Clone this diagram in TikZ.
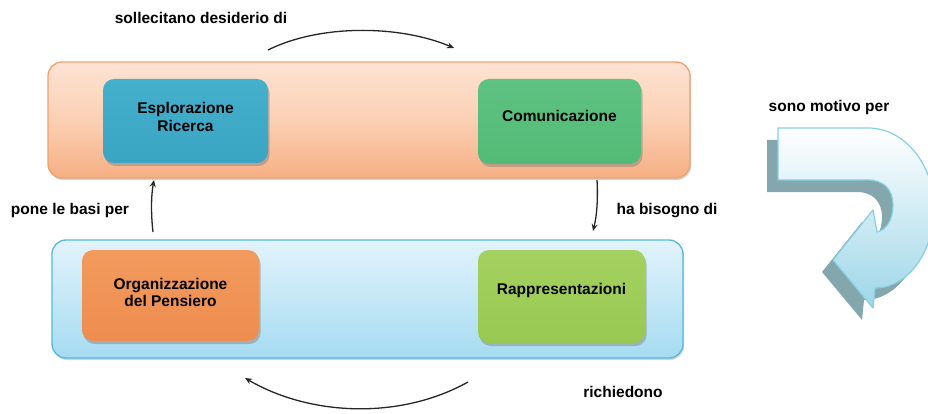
\documentclass[tikz,border=0pt]{standalone}
\usepackage{fontspec}
\setmainfont{Liberation Sans}
\usetikzlibrary{shadows,arrows.meta}
\definecolor{bandOtop}{HTML}{FDE3D3}
\definecolor{bandOmid}{HTML}{FBD0B4}
\definecolor{bandObot}{HTML}{F6AF83}
\definecolor{bandOedge}{HTML}{F0A06C}
\definecolor{bandBtop}{HTML}{E2F3FB}
\definecolor{bandBbot}{HTML}{A6DBF1}
\definecolor{bandBedge}{HTML}{52BADD}
\definecolor{cTeal}{HTML}{39A5C3}
\definecolor{cTealL}{HTML}{45B0CC}
\definecolor{cGreen}{HTML}{53BB76}
\definecolor{cGreenL}{HTML}{5EC282}
\definecolor{cOrange}{HTML}{EE8D4E}
\definecolor{cOrangeL}{HTML}{F29A5E}
\definecolor{cLime}{HTML}{98C952}
\definecolor{cLimeL}{HTML}{A4D160}
\definecolor{arrEdge}{HTML}{86D0E4}
\definecolor{arrBot}{HTML}{9DD6E8}
\definecolor{arrShadow}{HTML}{84A6AD}
\tikzset{
  band/.style={draw, line width=1.3pt, rounded corners=14pt, drop shadow={shadow xshift=1pt, shadow yshift=-2pt, opacity=.35}},
  card/.style={rounded corners=11pt, drop shadow={shadow xshift=1.5pt, shadow yshift=-3pt, opacity=.45}},
  cardtext/.style={font=\fontsize{15.5}{17.5}\selectfont\bfseries, align=center, text=black},
  lbl/.style={font=\fontsize{15.5}{17.5}\selectfont\bfseries, text=black},
  conn/.style={line width=1.3pt, draw=black!85, -{Stealth[length=7pt,width=6pt]}}
}
\begin{document}
\begin{tikzpicture}[x=1pt,y=-1pt]
\useasboundingbox (0,0) rectangle (928,414);

% bands
\node[band, draw=bandOedge, top color=bandOtop, bottom color=bandObot, middle color=bandOmid,
      minimum width=642pt, minimum height=116pt] (topband) at (369,120) {};
\node[band, draw=bandBedge, top color=bandBtop, bottom color=bandBbot,
      minimum width=631pt, minimum height=118pt] (botband) at (367.5,299) {};

% cards
\node[card, top color=cTealL, bottom color=cTeal, minimum width=165pt, minimum height=84pt] (esp) at (185.5,121) {};
\node[card, top color=cGreenL, bottom color=cGreen, minimum width=163pt, minimum height=85pt] (com) at (559.5,121.5) {};
\node[card, top color=cOrangeL, bottom color=cOrange, minimum width=177pt, minimum height=91pt] (org) at (170.5,295.5) {};
\node[card, top color=cLimeL, bottom color=cLime, minimum width=167pt, minimum height=93pt] (rap) at (561.5,296.5) {};

\node[cardtext] (espt) at ([yshift=4pt]esp.center) {Esplorazione\\Ricerca};
\node[cardtext] (comt) at ([yshift=6pt]com.center) {Comunicazione};
\node[cardtext] (orgt) at ([yshift=3pt]org.center) {Organizzazione\\del Pensiero};
\node[cardtext] (rapt) at ([yshift=6pt]rap.center) {Rappresentazioni};

% labels
\node[lbl] (l1) at (201,18) {sollecitano desiderio di};
\node[lbl] (l2) at (70,210) {pone le basi per};
\node[lbl] (l3) at (667,211) {ha bisogno di};
\node[lbl] (l4) at (623,392) {richiedono};
\node[lbl] (l5) at (829,107) {sono motivo per};

% connector end points
\coordinate (a1s) at (268,50);
\coordinate (a1e) at (454,48);
\coordinate (a2s) at (597,180);
\coordinate (a2e) at (593,231);
\coordinate (a3s) at (468,382);
\coordinate (a3e) at (245,378);
\coordinate (a4s) at (153,232);
\coordinate (a4e) at (154,180);

\draw[conn] (a1s) .. controls (320,24) and (400,25) .. (a1e);
\draw[conn] (a2s) .. controls (598,198) and (597,215) .. (a2e);
\draw[conn] (a3s) .. controls (400,420) and (310,416) .. (a3e);
\draw[conn] (a4s) .. controls (151,215) and (151,196) .. (a4e);

% big curved arrow: shadow
\fill[arrShadow, shift={(-11,12)}]
  (778,128) -- (868,128)
  .. controls (905,128) and (934,165) .. (934,208)
  .. controls (934,252) and (908,288) .. (875,288)
  -- (873,308) -- (833,260) -- (873,210) -- (877,232)
  .. controls (886,230) and (893,220) .. (893,205)
  .. controls (893,190) and (884,180) .. (868,180)
  -- (778,180) -- cycle;
% big curved arrow: body
\draw[draw=arrEdge, line width=1.2pt, top color=white, bottom color=arrBot, line join=round]
  (778,128) -- (868,128)
  .. controls (905,128) and (934,165) .. (934,208)
  .. controls (934,252) and (908,288) .. (875,288)
  -- (873,308) -- (833,260) -- (873,210) -- (877,232)
  .. controls (886,230) and (893,220) .. (893,205)
  .. controls (893,190) and (884,180) .. (868,180)
  -- (778,180) -- cycle;
\end{tikzpicture}
\end{document}
